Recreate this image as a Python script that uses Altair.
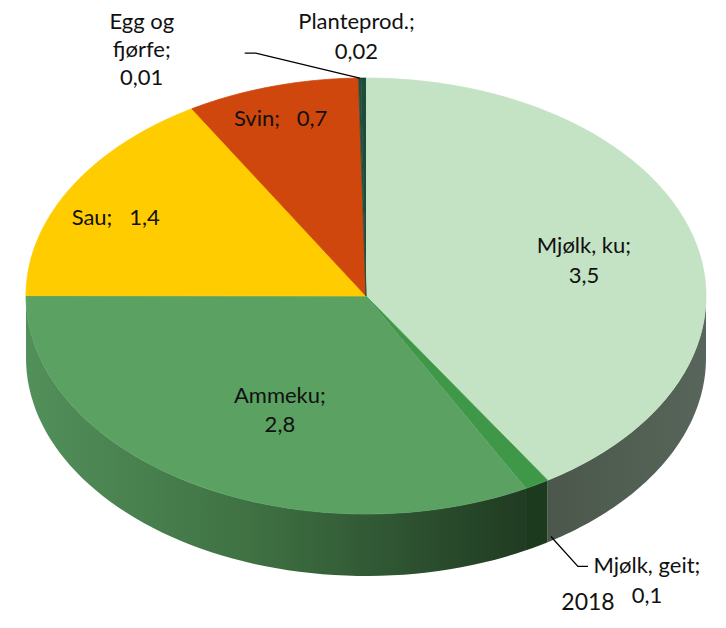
import altair as alt
import pandas as pd

# ---- data (2018) ----
kategorier = ["Mjølk, ku", "Mjølk, geit", "Ammeku", "Sau", "Svin", "Egg og fjørfe", "Planteprod."]
verdier = [3.5, 0.1, 2.8, 1.4, 0.7, 0.01, 0.02]
etikett_navn = ["Mjølk, ku;", "Mjølk, geit;", "Ammeku;", "Sau;", "Svin;", "Egg og\nfjørfe;", "Planteprod.;"]
etikett_skille = ["\n", "\n", "\n", "\u00a0\u00a0 ", "\u00a0\u00a0 ", "\n", "\n"]
aar = ["2018"]

# ---- styles ----
topp_farger = ["#c4e2c4", "#3f9848", "#5aa162", "#ffcc00", "#cf470c", "#2c4b3c", "#1d4c3a"]
side_gradient = {
    "Mjølk, ku": [("#4a574a", 0.0), ("#58655a", 1.0)],
    "Mjølk, geit": [("#1c3a1d", 0.0), ("#1c3a1d", 1.0)],
    "Ammeku": [("#52905a", 0.0), ("#3f7143", 0.45), ("#203b22", 1.0)],
}
FONT = "Lato"
FS = 22
TXT = "#111111"

# ---- layout (pixels, page coordinates) ----
CX, CY, RX, RY, DEPTH = 366, 296, 340, 218, 62
W, H = 704, 606
xs = alt.Scale(domain=[8, 8 + W], range=[0, W])
ys = alt.Scale(domain=[8, 8 + H], range=[0, H])
X = alt.X("px:Q", scale=xs, axis=None)
Y = alt.Y("py:Q", scale=ys, axis=None)

df = pd.DataFrame({
    "kategori": kategorier,
    "verdi": verdier,
    "rekkefolge": list(range(len(kategorier))),
    "etikett": [n + s + str(v).replace(".", ",") for n, s, v in zip(etikett_navn, etikett_skille, verdier)],
})

base = alt.Chart(df).transform_window(
    cum="sum(verdi)", sort=[alt.SortField("rekkefolge")], frame=[None, 0]
).transform_joinaggregate(total="sum(verdi)").transform_calculate(
    a0="2*PI*(datum.cum - datum.verdi)/datum.total",
    a1="2*PI*datum.cum/datum.total",
    mid="PI*(2*datum.cum - datum.verdi)/datum.total",
)

# ---- side walls (front half only) ----
side_base = base.transform_calculate(
    b0="max(datum.a0, PI/2)", b1="min(datum.a1, 3*PI/2)"
).transform_filter("datum.b1 > datum.b0").transform_calculate(
    k="sequence(0, 122)"
).transform_flatten(["k"]).transform_calculate(
    ang="datum.k <= 60 ? datum.b0 + (datum.b1 - datum.b0) * datum.k / 60 : datum.b1 - (datum.b1 - datum.b0) * (datum.k - 61) / 60"
).transform_calculate(
    px=f"{CX} + {RX} * sin(datum.ang)",
    py=f"{CY} - {RY} * cos(datum.ang) + (datum.k > 60 ? {DEPTH} : 0)",
)

sides = []
for navn, stops in side_gradient.items():
    grad = alt.Gradient(
        gradient="linear",
        stops=[alt.GradientStop(color=c, offset=o) for c, o in stops],
        x1=0, x2=1, y1=0, y2=0,
    )
    sides.append(
        side_base.transform_filter(alt.datum.kategori == navn)
        .mark_line(filled=True, fill=grad, strokeWidth=0, interpolate="linear")
        .encode(x=X, y=Y, order="k:Q")
    )

# ---- top face ----
farge_skala = alt.Scale(domain=kategorier, range=topp_farger)
top = base.transform_calculate(k="sequence(-1, 61)").transform_flatten(["k"]).transform_calculate(
    ang="datum.a0 + (datum.a1 - datum.a0) * max(datum.k, 0) / 60"
).transform_calculate(
    px=f"datum.k < 0 ? {CX} : {CX} + {RX} * sin(datum.ang)",
    py=f"datum.k < 0 ? {CY} : {CY} - {RY} * cos(datum.ang)",
).mark_line(filled=True, strokeWidth=0.8, interpolate="linear").encode(
    x=X, y=Y, order="k:Q", detail="kategori:N",
    fill=alt.Fill("kategori:N", scale=farge_skala, legend=None),
    stroke=alt.Stroke("kategori:N", scale=farge_skala, legend=None),
)

# ---- labels: anchored on the slice (mid angle), shifted by dx/dy ----
# (category, radial factor, extra depth, dx, dy to first line, line height)
etikett_plass = [
    ("Mjølk, ku", 0.6, 0, 22, -14, 30),
    ("Ammeku", 0.6, 0, 19, -12, 29),
    ("Sau", 0.6, 0, -73, -13, 30),
    ("Svin", 0.6, 0, -29, -51, 30),
    ("Egg og fjørfe", 1.0, 0, -218, -56, 28),
    ("Planteprod.", 1.0, 0, -7, -56, 30),
    ("Mjølk, geit", 1.0, DEPTH, 110, 20, 30),
]
labels = []
for navn, f, extra, ddx, ddy, lh in etikett_plass:
    labels.append(
        base.transform_filter(alt.datum.kategori == navn).transform_calculate(
            px=f"{CX} + {RX} * {f} * sin(datum.mid)",
            py=f"{CY} - {RY} * {f} * cos(datum.mid) + {extra}",
        ).mark_text(
            dx=ddx, dy=ddy, lineBreak="\n", lineHeight=lh, font=FONT, fontSize=FS,
            color=TXT, align="center", baseline="middle",
        ).encode(x=X, y=Y, text="etikett:N")
    )

# ---- leader lines for the small slices ----
# (category, extra depth, x offsets, y offsets)
ledere = [
    ("Egg og fjørfe", 0, [0, -104, -115], [0, -25, -25]),
    ("Mjølk, geit", DEPTH, [14, 41, 51], [-10, 20, 20]),
]
lines = []
for navn, extra, oxs, oys in ledere:
    lines.append(
        base.transform_filter(alt.datum.kategori == navn).transform_calculate(
            k="sequence(0, 3)"
        ).transform_flatten(["k"]).transform_calculate(
            px=f"{CX} + {RX} * sin(datum.mid) + {oxs}[datum.k]",
            py=f"{CY} - {RY} * cos(datum.mid) + {extra} + {oys}[datum.k]",
        ).mark_line(color="#000000", strokeWidth=1.3).encode(x=X, y=Y, order="k:Q")
    )

aar_tekst = alt.Chart(pd.DataFrame({"aar": aar})).mark_text(
    font=FONT, fontSize=23, color=TXT, align="center", baseline="middle"
).encode(x=alt.value(580), y=alt.value(595), text="aar:N")

chart = alt.layer(*sides, top, *lines, *labels, aar_tekst).properties(
    width=W, height=H, padding=0, autosize=alt.AutoSizeParams(type="none")
).configure_view(strokeWidth=0)

chart.save("out.html", embed_options={"renderer": "svg", "actions": False})
